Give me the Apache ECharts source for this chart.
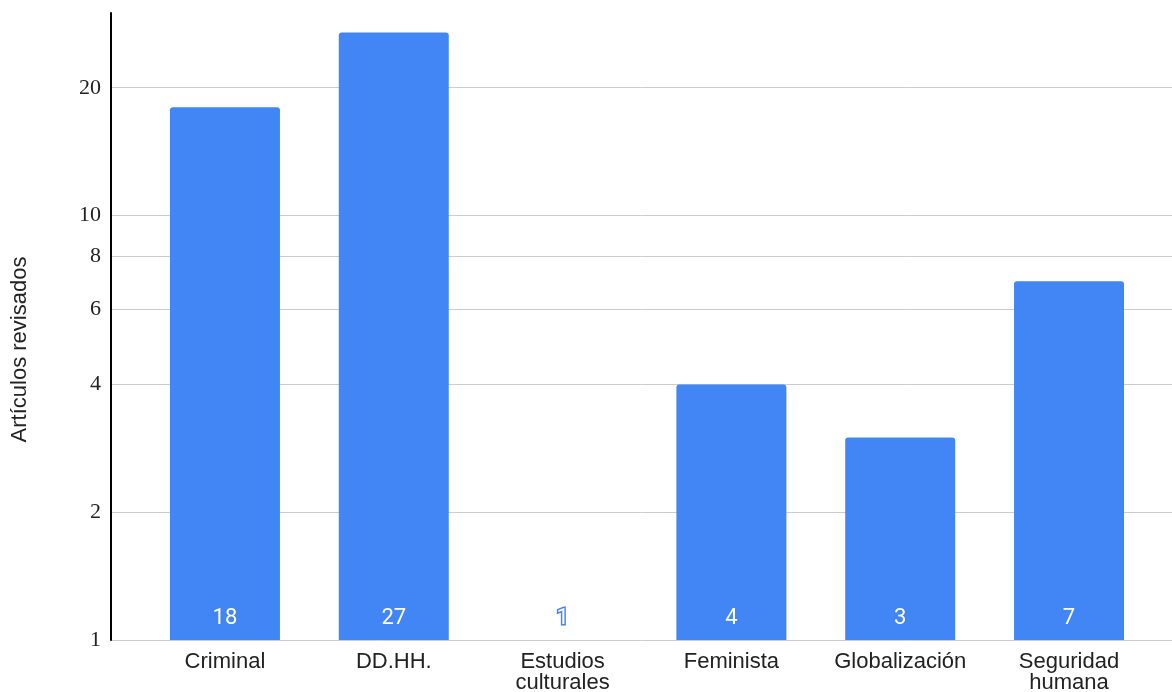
<!DOCTYPE html>
<html>
<head>
<meta charset="utf-8">
<script src="https://cdn.jsdelivr.net/npm/echarts@6/dist/echarts.min.js"></script>
<style>html,body{margin:0;padding:0;background:#fff}#c{width:1172px;height:692px}</style>
</head>
<body>
<div id="c"></div>
<script>
const categories = ['Criminal', 'DD.HH.', 'Estudios\nculturales', 'Feminista', 'Globalización', 'Seguridad\nhumana'];
const values = [18, 27, 1, 4, 3, 7];
const yTicks = [1, 2, 4, 6, 8, 10, 20];
const yMax = 30;
const yTitle = 'Artículos revisados';

const L = Math.log10;
const chart = echarts.init(document.getElementById('c'));
chart.setOption({
  animation: false,
  grid: { left: 111, right: 0, top: 13, bottom: 52, outerBoundsMode: 'none', containLabel: false },
  xAxis: {
    type: 'value',
    min: -0.675,
    max: 5.61,
    axisLine: { show: false },
    axisTick: { show: false, customValues: categories.map((c, i) => i) },
    splitLine: { show: false },
    axisLabel: {
      customValues: categories.map((c, i) => i),
      formatter: v => categories[Math.round(v)],
      fontFamily: 'Liberation Sans', fontSize: 22, color: '#222', lineHeight: 21, margin: 11,
      showMinLabel: true, showMaxLabel: true
    }
  },
  yAxis: {
    type: 'value',
    min: 0,
    max: L(yMax),
    name: yTitle,
    nameLocation: 'middle',
    nameGap: 80,
    nameTextStyle: { fontFamily: 'Liberation Sans', fontSize: 22, color: '#222', padding: [0, 46, 0, 0] },
    axisLine: { show: true, onZero: false, lineStyle: { color: '#000', width: 2 } },
    axisTick: { show: false, customValues: yTicks.map(L) },
    splitLine: { show: true, lineStyle: { color: '#cccccc', width: 1 } },
    axisLabel: {
      customValues: yTicks.map(L),
      formatter: v => String(Math.round(Math.pow(10, v))),
      fontFamily: 'Liberation Serif', fontSize: 22, color: '#222', margin: 10
    }
  },
  series: [{
    type: 'bar',
    barWidth: 110,
    data: values.map((v, i) => [i, L(v)]),
    itemStyle: { color: '#4285F4', borderRadius: [3, 3, 0, 0] },
    label: {
      show: true,
      position: 'insideBottom',
      distance: 11,
      formatter: p => String(values[p.dataIndex]),
      fontFamily: 'Roboto', fontSize: 22, color: '#fff',
      textBorderColor: '#4285F4', textBorderWidth: 3
    }
  }]
});
</script>
</body>
</html>
